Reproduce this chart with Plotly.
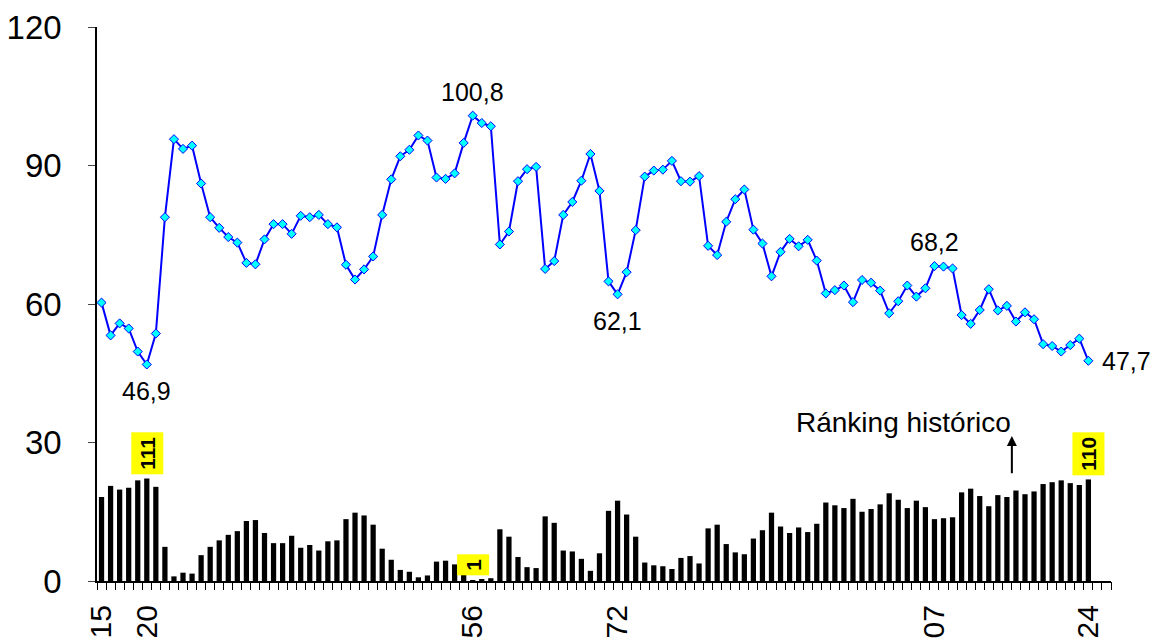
import plotly.graph_objects as go

# ---------------- data ----------------
years = list(range(1915, 2025))

values = [
    60.3, 53.2, 55.8, 54.7, 49.7, 46.9, 53.6, 78.8, 95.7, 93.6,
    94.3, 86.1, 78.8, 76.5, 74.5, 73.3, 68.9, 68.6, 74.0, 77.3,
    77.3, 75.2, 79.1, 78.8, 79.3, 77.3, 76.6, 68.5, 65.3, 67.5,
    70.3, 79.3, 87.0, 92.0, 93.4, 96.5, 95.4, 87.4, 87.1, 88.3,
    94.9, 100.8, 99.2, 98.5, 72.9, 75.7, 86.6, 89.2, 89.7, 67.6,
    69.3, 79.3, 82.1, 86.7, 92.5, 84.5, 64.9, 62.1, 66.9, 76.0,
    87.6, 88.9, 89.1, 91.0, 86.6, 86.5, 87.7, 72.6, 70.6, 77.8,
    82.7, 84.8, 76.1, 73.1, 66.0, 71.3, 74.1, 72.5, 73.9, 69.4,
    62.3, 63.0, 64.0, 60.4, 65.2, 64.6, 62.9, 58.0, 60.6, 64.0,
    61.6, 63.4, 68.2, 68.1, 67.7, 57.6, 55.7, 58.7, 63.2, 58.6,
    59.6, 56.2, 58.2, 56.7, 51.3, 50.9, 49.7, 51.1, 52.5, 47.7,
]

ranking = [
    91, 103, 99, 101, 109, 111, 102, 37, 5, 9,
    8, 28, 37, 44, 50, 54, 65, 66, 52, 41,
    41, 49, 36, 39, 33, 43, 44, 67, 74, 71,
    61, 35, 23, 12, 10, 4, 6, 21, 22, 18,
    7, 1, 2, 3, 56, 48, 26, 15, 14, 70,
    63, 33, 32, 24, 11, 30, 76, 87, 72, 48,
    20, 17, 16, 13, 25, 27, 19, 57, 61, 40,
    31, 29, 46, 55, 74, 59, 52, 58, 53, 62,
    85, 82, 79, 89, 75, 78, 83, 95, 88, 79,
    87, 80, 67, 68, 69, 96, 100, 92, 81, 93,
    91, 98, 94, 97, 105, 107, 109, 106, 104, 110,
]

tick_years = [1915, 1920, 1956, 1972, 2007, 2024]
tick_text = ["15", "20", "56", "72", "07", "24"]
y_ticks = [0, 30, 60, 90, 120]

# value labels: (year, position)
value_label_years = [1920, 1956, 1972, 2007, 2024]
value_label_pos = ["below", "above", "below", "above", "right"]
highlight_rank_years = [1920, 1956, 2024]

bar_scale = 0.2  # ranking drawn at 1/5 of the value axis

FONT = "Liberation Sans, Arial, sans-serif"

# ---------------- figure ----------------
fig = go.Figure()

fig.add_trace(go.Bar(
    x=years, y=[r * bar_scale for r in ranking],
    marker=dict(color="black", line=dict(width=0)),
    width=0.58, hoverinfo="skip", showlegend=False,
))

fig.add_trace(go.Scatter(
    x=years, y=values, mode="lines+markers",
    line=dict(color="#0000FF", width=2),
    marker=dict(symbol="diamond", size=7, color="#00FFFF",
                line=dict(color="#0000FF", width=1)),
    showlegend=False, cliponaxis=False,
))

# helper trace so the tick-only overlay axis is drawn
fig.add_trace(go.Scatter(x=[], y=[], xaxis="x2", showlegend=False, hoverinfo="skip"))

x_range = [1914.5, 2026.5]

annotations = []
for yr, pos in zip(value_label_years, value_label_pos):
    v = values[years.index(yr)]
    txt = f"{v:.1f}".replace(".", ",")
    a = dict(x=yr, y=v, text=txt, showarrow=False,
             font=dict(family=FONT, size=25, color="black"))
    if pos == "above":
        a.update(yanchor="middle", yshift=24)
    elif pos == "below":
        a.update(yanchor="middle", yshift=-27)
    else:
        a.update(xanchor="left", yanchor="middle", xshift=12)
    annotations.append(a)

for yr in highlight_rank_years:
    r = ranking[years.index(yr)]
    annotations.append(dict(
        x=yr, y=r * bar_scale, text=f"<b>{r}</b>", showarrow=False,
        textangle=-90, yanchor="bottom", yshift=4,
        bgcolor="#FFFF00", borderpad=4,
        font=dict(family=FONT, size=21, color="black"),
    ))

annotations.append(dict(
    x=2003.6, y=34.4, text="Ránking histórico", showarrow=False,
    font=dict(family=FONT, size=28, color="black"),
))
annotations.append(dict(
    x=2015.55, y=31.4, ax=2015.55, ay=23.0, axref="x", ayref="y",
    text="", showarrow=True, arrowhead=2, arrowsize=1, arrowwidth=2,
    arrowcolor="black",
))

fig.update_layout(
    width=1152, height=643,
    margin=dict(l=97, r=41, t=27, b=62, autoexpand=False),
    plot_bgcolor="white", paper_bgcolor="white",
    showlegend=False,
    font=dict(family=FONT, color="black"),
    xaxis=dict(
        range=x_range, tickmode="array", tickvals=tick_years, ticktext=tick_text,
        tickangle=-90, tickfont=dict(family=FONT, size=30, color="black"),
        ticks="", showline=True, linecolor="black", linewidth=2,
        showgrid=False, zeroline=False, ticklabelstandoff=10, automargin=False,
    ),
    xaxis2=dict(
        range=x_range, overlaying="x", anchor="y", side="bottom",
        tickmode="linear", tick0=1914.5, dtick=1,
        ticks="outside", ticklen=8, tickwidth=1, tickcolor="black",
        showticklabels=False, showgrid=False, showline=False, zeroline=False,
        automargin=False,
    ),
    yaxis=dict(
        range=[0, 120], tickmode="array", tickvals=y_ticks,
        ticks="outside", ticklen=7, tickwidth=1, tickcolor="#444444",
        showline=True, linecolor="black", linewidth=1.5,
        tickfont=dict(family=FONT, size=33, color="black"),
        showgrid=False, zeroline=False, ticklabelstandoff=20, automargin=False,
    ),
    annotations=annotations,
    bargap=0.4,
)

fig.write_html(
    "out.html",
    config={"displayModeBar": False},
    post_script="document.body.style.margin='0';document.body.style.overflow='hidden';",
)
